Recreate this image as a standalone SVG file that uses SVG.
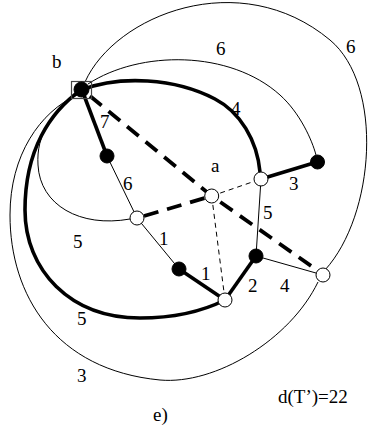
<svg xmlns="http://www.w3.org/2000/svg" width="368" height="430" viewBox="0 0 368 430">
<style>
.thin{fill:none;stroke:#000;stroke-width:1}
.thick{fill:none;stroke:#000;stroke-width:3.6}
.dthick{fill:none;stroke:#000;stroke-width:3.8;stroke-dasharray:15 9}
.dthin{fill:none;stroke:#000;stroke-width:1;stroke-dasharray:5 4}
.open{fill:#fff;stroke:#000;stroke-width:1}
.full{fill:#000;stroke:#000;stroke-width:1}
text{font-family:"Liberation Serif","Times New Roman",serif;font-size:19px;fill:#000}
</style>
<rect width="368" height="430" fill="#fff"/>
<g id="connectors">
<path class="thin" d="M 85 82 C 115 15, 240 -35, 330 40 C 384 85, 375 215, 325 270"/>
<path class="thin" d="M 88 84 C 140 50, 230 50, 280 95 C 300 113, 312 140, 316 155"/>
<path class="thin" d="M 77 95 C 40 112, 10 155, 10 215 C 10 295, 55 370, 160 380 C 215 385, 290 340, 318 282"/>
<path class="thin" d="M 81 90 C 52 110, 36 135, 38 165 C 40 205, 80 228, 130 219"/>
<path class="thick" d="M 81 90 C 50 112, 25 150, 25 210 C 25 270, 70 318, 140 318 C 175 318, 205 310, 225 300"/>
<path class="thick" d="M 81 90 C 120 75, 175 78, 215 99 C 240 112, 257 140, 260 172"/>
<line class="thick" x1="82" y1="90" x2="107" y2="156"/>
<line class="thin" x1="107" y1="156" x2="137" y2="218"/>
<line class="thin" x1="137" y1="218" x2="179" y2="269"/>
<line class="thick" x1="179" y1="269" x2="225" y2="300"/>
<line class="thick" x1="225" y1="300" x2="256" y2="256"/>
<line class="thin" x1="256" y1="256" x2="261" y2="179"/>
<line class="thin" x1="256" y1="256" x2="323" y2="275"/>
<line class="thick" x1="261" y1="179" x2="317" y2="162"/>
<path class="dthick" d="M 90 96 L 211.7 196 L 314 268"/>
<line class="dthick" x1="144" y1="216" x2="211.7" y2="196"/>
<line class="dthin" x1="211.7" y1="196" x2="261" y2="179"/>
<line class="dthin" x1="211.7" y1="196" x2="225" y2="300"/>
</g>
<g id="node-b"><rect x="71.5" y="81.5" width="20" height="17" fill="none" stroke="#444" stroke-width="1.2"/><circle class="full" cx="81.5" cy="89.5" r="7.5"/></g>
<g id="node-1"><circle class="full" cx="107" cy="156" r="7"/></g>
<g id="node-2"><circle class="open" cx="137" cy="218" r="7"/></g>
<g id="node-a"><circle class="open" cx="211.7" cy="196" r="7"/></g>
<g id="node-3"><circle class="full" cx="179" cy="269" r="7"/></g>
<g id="node-4"><circle class="open" cx="225" cy="300" r="7"/></g>
<g id="node-5"><circle class="open" cx="261" cy="179" r="7"/></g>
<g id="node-6"><circle class="full" cx="317.5" cy="162" r="7"/></g>
<g id="node-7"><circle class="full" cx="256" cy="256" r="7"/></g>
<g id="node-8"><circle class="open" cx="323" cy="275" r="7"/></g>
<g id="labels">
<text x="52" y="68">b</text>
<text x="211" y="172">a</text>
<text x="100" y="128">7</text>
<text x="123" y="190">6</text>
<text x="216" y="55">6</text>
<text x="346" y="53">6</text>
<text x="231" y="115">4</text>
<text x="289" y="190">3</text>
<text x="263" y="219">5</text>
<text x="159" y="245">1</text>
<text x="201" y="280">1</text>
<text x="248" y="292">2</text>
<text x="280" y="292">4</text>
<text x="73" y="248">5</text>
<text x="77" y="325">5</text>
<text x="77" y="382">3</text>
<text x="153" y="421">e)</text>
<text x="278" y="403">d(T’)=22</text>
</g>
</svg>
